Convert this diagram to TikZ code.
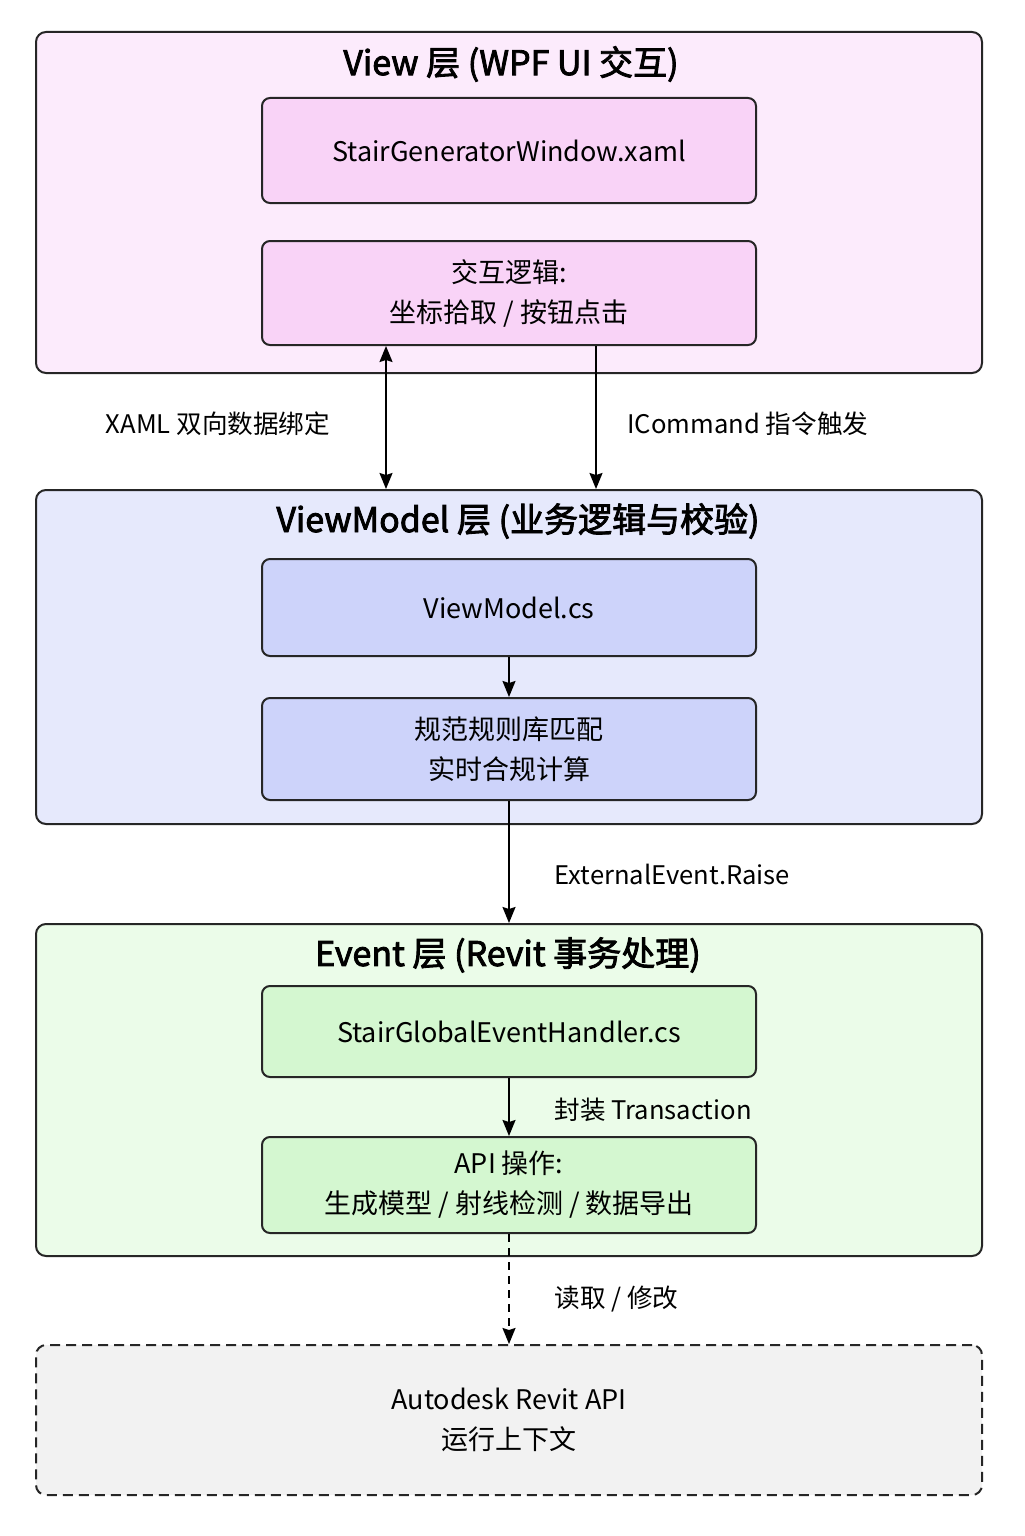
\documentclass[tikz,border=0pt]{standalone}
\usepackage{fontspec}
\setmainfont{Noto Sans CJK SC}
\newfontfamily\titlefont[FakeBold=2.5]{Noto Sans CJK SC}
\usepackage{xcolor}
\usepackage{tikz}
\usetikzlibrary{positioning,arrows,arrows.meta}
\definecolor{viewbg}{HTML}{FCEBFC}
\definecolor{viewbox}{HTML}{F9D3F7}
\definecolor{vmbg}{HTML}{E6E9FC}
\definecolor{vmbox}{HTML}{CDD3FA}
\definecolor{evbg}{HTML}{EBFCE9}
\definecolor{evbox}{HTML}{D4F7D0}
\definecolor{revitbg}{HTML}{F2F2F2}
\tikzset{
	layer/.style={draw=black!85,line width=1pt,rounded corners=5pt,minimum width=473pt},
	layertitle/.style={font=\titlefont\fontsize{17}{19}\selectfont},
	part/.style={draw=black!85,line width=1pt,rounded corners=4pt,minimum width=247pt,align=center,font=\fontsize{13.5}{20}\selectfont},
	lbl/.style={font=\fontsize{12.8}{15}\selectfont}
}

\begin{document}
\begin{tikzpicture}[->,>={Stealth[length=8pt,width=6.5pt,inset=1pt]},line width=0.8pt,x=0.5pt,y=-0.5pt]
			\useasboundingbox[fill=white] (0,0) rectangle (1024,1536);
			% layers
			\node[layer,fill=viewbg,minimum height=170.5pt] (view) at (509,202.5) {};
			\node[layer,fill=vmbg,minimum height=167pt] (vm) at (509,657) {};
			\node[layer,fill=evbg,minimum height=166pt] (ev) at (509,1090) {};
			\node[layer,fill=revitbg,minimum height=75pt,dashed,dash pattern=on 5pt off 3pt,align=center,font=\fontsize{13.5}{20}\selectfont] (revit) at (509,1420) {Autodesk Revit API\\运行上下文};
			\node[layertitle] (viewtitle) at (511,64) {View 层 (WPF UI 交互)};
			\node[layertitle] (vmtitle) at (518,521) {ViewModel 层 (业务逻辑与校验)};
			\node[layertitle] (evtitle) at (508,955) {Event 层 (Revit 事务处理)};
			% parts
			\node[part,fill=viewbox,minimum height=52.5pt] (xaml) at (509,150.5) {StairGeneratorWindow.xaml};
			\node[part,fill=viewbox,minimum height=52pt] (logic) at (509,293) {交互逻辑:\\坐标拾取 / 按钮点击};
			\node[part,fill=vmbox,minimum height=48.5pt] (vmfile) at (509,607.5) {ViewModel.cs};
			\node[part,fill=vmbox,minimum height=51pt] (rules) at (509,749) {规范规则库匹配\\实时合规计算};
			\node[part,fill=evbox,minimum height=45.5pt] (handler) at (509,1031.5) {StairGlobalEventHandler.cs};
			\node[part,fill=evbox,minimum height=48pt] (apiop) at (509,1185) {API 操作:\\生成模型 / 射线检测 / 数据导出};
			\coordinate (bindx) at (386,0);
			\coordinate (cmdx) at (596,0);
			% connectors
			\draw[<->] (logic.south -| bindx) -- (vm.north -| bindx);
			\draw (logic.south -| cmdx) -- (vm.north -| cmdx);
			\draw (vmfile) -- (rules);
			\draw (rules) -- (ev.north -| rules.south);
			\draw (handler) -- (apiop);
			\draw[dashed,dash pattern=on 4pt off 3pt] (apiop) -- (revit.north -| apiop.south);
			% labels
			\node[lbl] (bindlbl) at (218,424) {XAML 双向数据绑定};
			\node[lbl,anchor=west] (cmdlbl) at (620,424) {ICommand 指令触发};
			\node[lbl,anchor=west] (raiselbl) at (547,874) {ExternalEvent.Raise};
			\node[lbl,anchor=west] (translbl) at (547,1110) {封装 Transaction};
			\node[lbl,anchor=west] (readlbl) at (547,1299) {读取 / 修改};
\end{tikzpicture}
\end{document}
